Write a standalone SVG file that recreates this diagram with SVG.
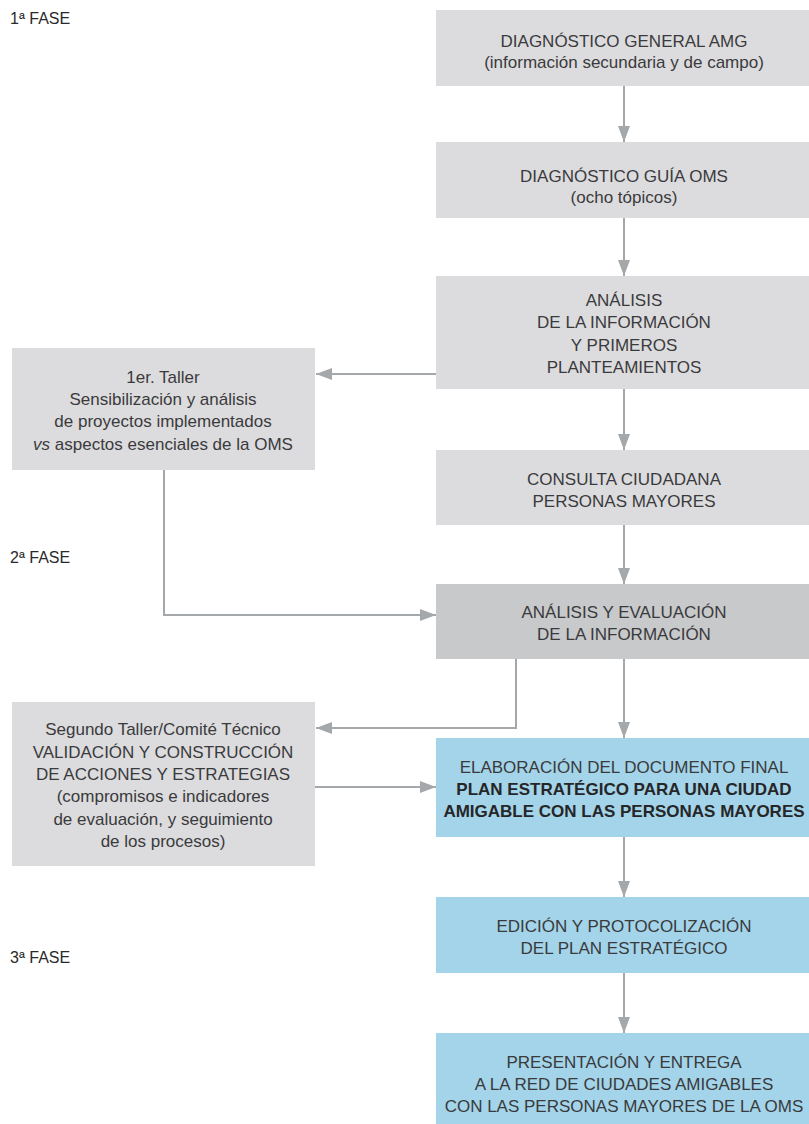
<svg xmlns="http://www.w3.org/2000/svg" width="809" height="1124" viewBox="0 0 809 1124">
<style>
text{font-family:"Liberation Sans",Arial,sans-serif;font-size:17px;fill:#3a3a3c;text-anchor:middle}
.phase{text-anchor:start;font-size:16px;fill:#2a2a2a}
.b{font-weight:bold;fill:#262628}
.lg{fill:#dcdcde}
.dg{fill:#c8c9cb}
.bl{fill:#a3d4e9}
.c{fill:none;stroke:#a5a8ab;stroke-width:2;marker-end:url(#ah)}
</style>
<defs>
<marker id="ah" markerUnits="userSpaceOnUse" markerWidth="16" markerHeight="12" refX="16" refY="6" orient="auto">
<path d="M0,0 L16,6 L0,12 z" fill="#a5a8ab"/>
</marker>
</defs>
<rect width="809" height="1124" fill="#ffffff"/>
<text class="phase" x="10" y="24">1ª FASE</text>
<text class="phase" x="10" y="563">2ª FASE</text>
<text class="phase" x="10" y="963">3ª FASE</text>
<g id="connectors">
<path class="c" d="M624,86 V142"/>
<path class="c" d="M624,218 V276"/>
<path class="c" d="M436,374 H316"/>
<path class="c" d="M624,389 V450"/>
<path class="c" d="M164,470 V615 H436"/>
<path class="c" d="M624,525 V584"/>
<path class="c" d="M516,659 V728 H316"/>
<path class="c" d="M624,659 V738"/>
<path class="c" d="M315,787 H436"/>
<path class="c" d="M624,837 V897"/>
<path class="c" d="M624,973 V1033"/>
</g>
<g id="n1"><rect class="lg" x="436" y="10" width="373" height="76"/>
<text x="624" y="47">DIAGNÓSTICO GENERAL AMG</text>
<text x="624" y="68">(información secundaria y de campo)</text></g>
<g id="n2"><rect class="lg" x="436" y="142" width="373" height="76"/>
<text x="624" y="182">DIAGNÓSTICO GUÍA OMS</text>
<text x="624" y="203">(ocho tópicos)</text></g>
<g id="n3"><rect class="lg" x="436" y="276" width="373" height="113"/>
<text x="624" y="306">ANÁLISIS</text>
<text x="624" y="328">DE LA INFORMACIÓN</text>
<text x="624" y="351">Y PRIMEROS</text>
<text x="624" y="373">PLANTEAMIENTOS</text></g>
<g id="n4"><rect class="lg" x="12" y="348" width="303" height="122"/>
<text x="163" y="383">1er. Taller</text>
<text x="163" y="405">Sensibilización y análisis</text>
<text x="163" y="427">de proyectos implementados</text>
<text x="163" y="450"><tspan font-style="italic">vs</tspan> aspectos esenciales de la OMS</text></g>
<g id="n5"><rect class="lg" x="436" y="450" width="373" height="75"/>
<text x="624" y="485">CONSULTA CIUDADANA</text>
<text x="624" y="507">PERSONAS MAYORES</text></g>
<g id="n6"><rect class="dg" x="436" y="584" width="373" height="75"/>
<text x="624" y="618">ANÁLISIS Y EVALUACIÓN</text>
<text x="624" y="640">DE LA INFORMACIÓN</text></g>
<g id="n7"><rect class="lg" x="12" y="702" width="303" height="164"/>
<text x="163" y="735">Segundo Taller/Comité Técnico</text>
<text x="163" y="758">VALIDACIÓN Y CONSTRUCCIÓN</text>
<text x="163" y="780">DE ACCIONES Y ESTRATEGIAS</text>
<text x="163" y="802">(compromisos e indicadores</text>
<text x="163" y="825">de evaluación, y seguimiento</text>
<text x="163" y="847">de los procesos)</text></g>
<g id="n8"><rect class="bl" x="436" y="738" width="373" height="99"/>
<text x="624" y="773">ELABORACIÓN DEL DOCUMENTO FINAL</text>
<text class="b" x="624" y="795">PLAN ESTRATÉGICO PARA UNA CIUDAD</text>
<text class="b" x="624" y="817">AMIGABLE CON LAS PERSONAS MAYORES</text></g>
<g id="n9"><rect class="bl" x="436" y="897" width="373" height="76"/>
<text x="624" y="932">EDICIÓN Y PROTOCOLIZACIÓN</text>
<text x="624" y="954">DEL PLAN ESTRATÉGICO</text></g>
<g id="n10"><rect class="bl" x="436" y="1033" width="373" height="91"/>
<text x="624" y="1068">PRESENTACIÓN Y ENTREGA</text>
<text x="624" y="1090">A LA RED DE CIUDADES AMIGABLES</text>
<text x="624" y="1112">CON LAS PERSONAS MAYORES DE LA OMS</text></g>
</svg>
